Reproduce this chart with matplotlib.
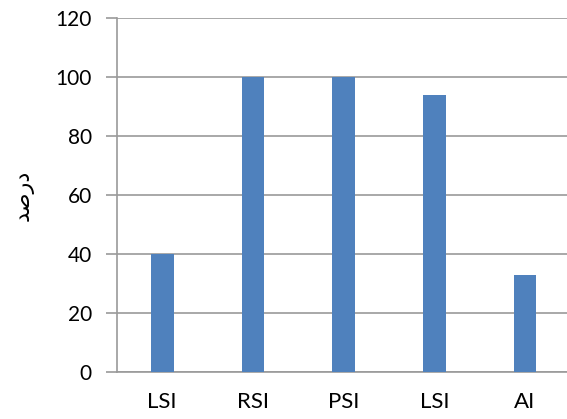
import matplotlib.pyplot as plt

categories = ['LSI', 'RSI', 'PSI', 'LSI', 'AI']
values = [40, 100, 100, 94, 33]
y_ticks = [0, 20, 40, 60, 80, 100, 120]
# "درصد" written in shaped presentation forms, visual order
y_label = '\uFEAA\uFEBB\uFEAD\uFEA9'

plt.rcParams['font.family'] = ['Lato', 'DejaVu Sans']

fig = plt.figure(figsize=(5.67, 4.19), dpi=100)
ax = fig.add_axes([0.206, 0.112, 0.80, 0.845])

x = range(len(categories))
ax.bar(x, values, width=0.25, color='#4F81BD', zorder=3)

ax.set_xlim(-0.5, 4.5)
ax.set_ylim(0, 120)
ax.set_yticks(y_ticks)
ax.set_xticks(list(x))
ax.set_xticklabels(categories)
ax.grid(axis='y', color='#9a9a9a', linewidth=1.2, zorder=0)

for side in ['top', 'right']:
    ax.spines[side].set_visible(False)
for side in ['left', 'bottom']:
    ax.spines[side].set_color('#9a9a9a')
    ax.spines[side].set_linewidth(1.2)

ax.tick_params(axis='y', length=8, width=1.2, color='#9a9a9a', labelsize=15, pad=10)
ax.tick_params(axis='x', length=0, labelsize=16, pad=14)

ax.set_ylabel(y_label, family='DejaVu Sans', fontsize=16, labelpad=16)

fig.savefig('out.png', dpi=100)
